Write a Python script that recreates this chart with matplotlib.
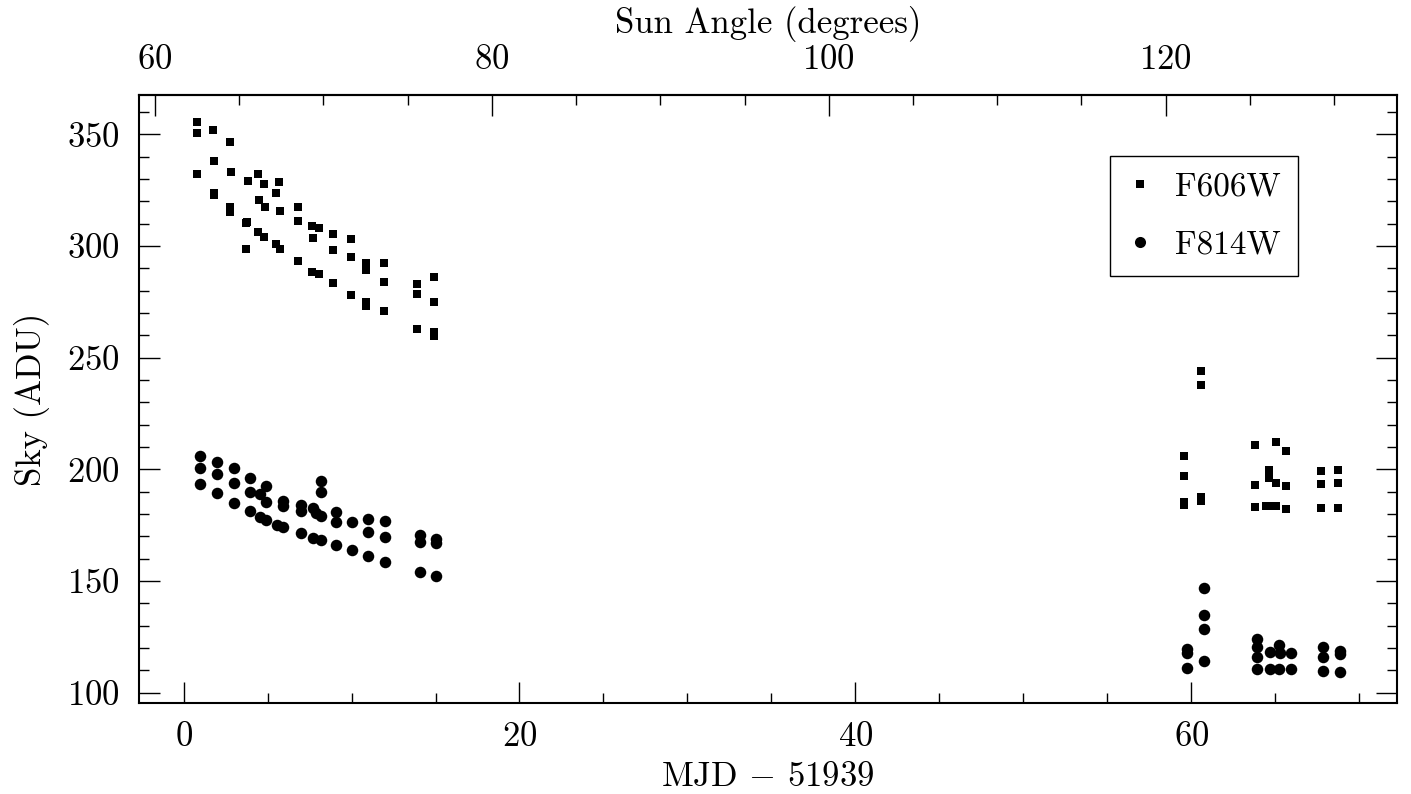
import matplotlib
matplotlib.use("Agg")
import matplotlib.pyplot as plt
from matplotlib.ticker import MultipleLocator, FixedLocator
from matplotlib.lines import Line2D
import numpy as np

plt.rcParams['font.family'] = ['cmr10', 'DejaVu Serif']
plt.rcParams['mathtext.fontset'] = 'cm'
plt.rcParams['axes.formatter.use_mathtext'] = True

# sky background per exposure, MJD offset from 51939
mjd_606 = [0.77, 0.81, 1.76, 2.78, 1.82, 0.77, 2.84, 3.85, 4.44, 4.80, 5.69, 1.78, 1.82,
           4.50, 5.51, 4.84, 2.78, 2.78, 5.75, 6.83, 3.74, 3.78, 6.83, 4.44, 4.80, 7.64,
           8.05, 7.72, 8.89, 9.96, 5.51, 5.75, 3.74, 8.89, 9.96, 10.85, 10.85, 11.92,
           6.83, 7.64, 8.05, 8.89, 11.92, 9.96, 10.85, 10.85, 11.92, 13.89, 13.89, 14.90,
           14.90, 13.89, 14.90, 14.90,
           60.60, 60.60, 59.58, 59.58, 59.58, 59.58, 60.60, 60.60, 63.78, 65.06, 65.67,
           64.62, 64.62, 65.06, 63.78, 65.67, 63.78, 64.45, 64.62, 65.06, 65.67, 67.73,
           68.72, 67.73, 68.72, 67.73, 68.72]
sky_606 = [355.4, 350.4, 351.8, 346.4, 337.9, 332.1, 333.0, 329.1, 332.1, 327.6, 328.5, 323.5, 322.8,
           320.6, 323.6, 317.3, 317.6, 315.3, 315.5, 317.3, 310.1, 310.8, 311.0, 306.1, 304.2, 308.9,
           307.9, 303.6, 305.2, 303.0, 300.9, 298.6, 298.5, 298.1, 294.9, 292.5, 289.2, 292.2,
           293.1, 288.2, 287.5, 283.3, 283.7, 277.9, 275.1, 273.1, 271.0, 282.8, 278.4, 286.0,
           274.9, 263.0, 261.3, 259.7,
           243.9, 237.6, 205.8, 196.9, 185.2, 184.0, 187.6, 185.8, 210.7, 212.1, 208.1,
           199.6, 196.1, 193.7, 192.8, 192.4, 183.0, 183.4, 183.4, 183.7, 182.2, 199.1,
           199.6, 193.3, 193.7, 182.5, 182.5]

mjd_814 = [0.97, 0.97, 0.97, 2.00, 2.00, 2.00, 3.01, 3.01, 3.01, 3.97, 3.97, 3.97, 4.90,
           4.57, 4.90, 4.57, 4.90, 5.89, 5.89, 5.57, 5.89, 7.01, 7.01, 7.01, 7.72, 7.91,
           8.18, 8.18, 8.18, 7.72, 8.18, 9.08, 9.08, 9.08, 10.00, 11.00, 11.00, 10.00,
           11.00, 11.99, 11.99, 11.99, 14.05, 14.05, 15.04, 15.04, 14.05, 15.04,
           60.76, 60.76, 60.76, 59.78, 59.78, 59.78, 60.76, 63.90, 63.90, 63.90, 63.90,
           65.24, 64.71, 65.30, 65.93, 64.71, 65.24, 65.93, 67.83, 67.83, 67.83, 68.88,
           68.88, 68.88]
sky_814 = [206.1, 200.5, 193.4, 203.4, 197.8, 189.3, 200.5, 194.0, 185.1, 196.3, 190.0, 181.5, 192.5,
           188.8, 185.5, 178.8, 177.3, 185.8, 183.6, 175.1, 174.0, 184.0, 181.4, 171.7, 182.8, 180.3,
           179.1, 194.9, 190.0, 169.1, 168.4, 181.1, 176.6, 166.1, 176.6, 177.6, 172.1, 163.9,
           161.2, 176.9, 169.9, 158.7, 170.6, 167.6, 169.0, 166.9, 154.2, 152.3,
           146.7, 134.8, 128.5, 119.6, 117.9, 110.9, 114.3, 123.9, 120.3, 115.8, 110.5,
           121.4, 118.4, 117.8, 117.9, 110.6, 110.6, 110.6, 120.3, 115.8, 109.9, 118.8,
           117.5, 109.4]

sun_major = [60, 80, 100, 120]
sun_minor = [65, 70, 75, 85, 90, 95, 105, 110, 115, 125, 130]

fs = 25

fig = plt.figure(figsize=(14.11, 7.94), dpi=100)
ax = fig.add_axes([0.0985, 0.1146, 0.8915, 0.7658])

ax.plot(mjd_606, sky_606, 's', color='k', ms=6.3, mew=0)
ax.plot(mjd_814, sky_814, 'o', color='k', ms=8.3, mew=0)

ax.set_xlim(-2.66, 72.25)
ax.set_ylim(95.4, 367.6)

ax.xaxis.set_major_locator(MultipleLocator(20))
ax.xaxis.set_minor_locator(MultipleLocator(5))
ax.yaxis.set_major_locator(MultipleLocator(50))
ax.yaxis.set_minor_locator(MultipleLocator(10))
ax.tick_params(which='both', direction='in', top=False, right=True, width=1, labelsize=fs)
ax.tick_params(which='major', length=15)
ax.tick_params(which='minor', length=7)
ax.tick_params(axis='x', pad=13)
ax.tick_params(axis='y', pad=14)
for s in ax.spines.values():
    s.set_linewidth(1.5)

ax.set_xlabel(r"MJD $-$ 51939", fontsize=fs, labelpad=6)
ax.set_ylabel("Sky (ADU)", fontsize=fs, labelpad=12)

# sun angle along the top
sun = ax.secondary_xaxis('top', functions=(lambda m: m * 0.997 + 61.7,
                                           lambda a: (a - 61.7) / 0.997))
sun.xaxis.set_major_locator(FixedLocator(sun_major))
sun.xaxis.set_minor_locator(FixedLocator(sun_minor))
sun.tick_params(which='both', direction='in', width=1, labelsize=fs, pad=14)
sun.tick_params(which='major', length=15)
sun.tick_params(which='minor', length=7)
sun.set_xlabel("Sun Angle (degrees)", fontsize=fs, labelpad=8)
sun.spines['top'].set_linewidth(1.5)

handles = [Line2D([], [], ls='none', marker='s', color='k', ms=5.8, mew=0),
           Line2D([], [], ls='none', marker='o', color='k', ms=8, mew=0)]
leg = ax.legend(handles, ['F606W', 'F814W'], loc='upper left', bbox_to_anchor=(0.772, 0.8997),
                fontsize=24, frameon=True, fancybox=False, edgecolor='k', framealpha=1,
                handlelength=0.8, handletextpad=0.65, borderpad=0.5, labelspacing=0.85,
                borderaxespad=0)
leg.get_frame().set_linewidth(1)

fig.savefig("out.png", dpi=100)
